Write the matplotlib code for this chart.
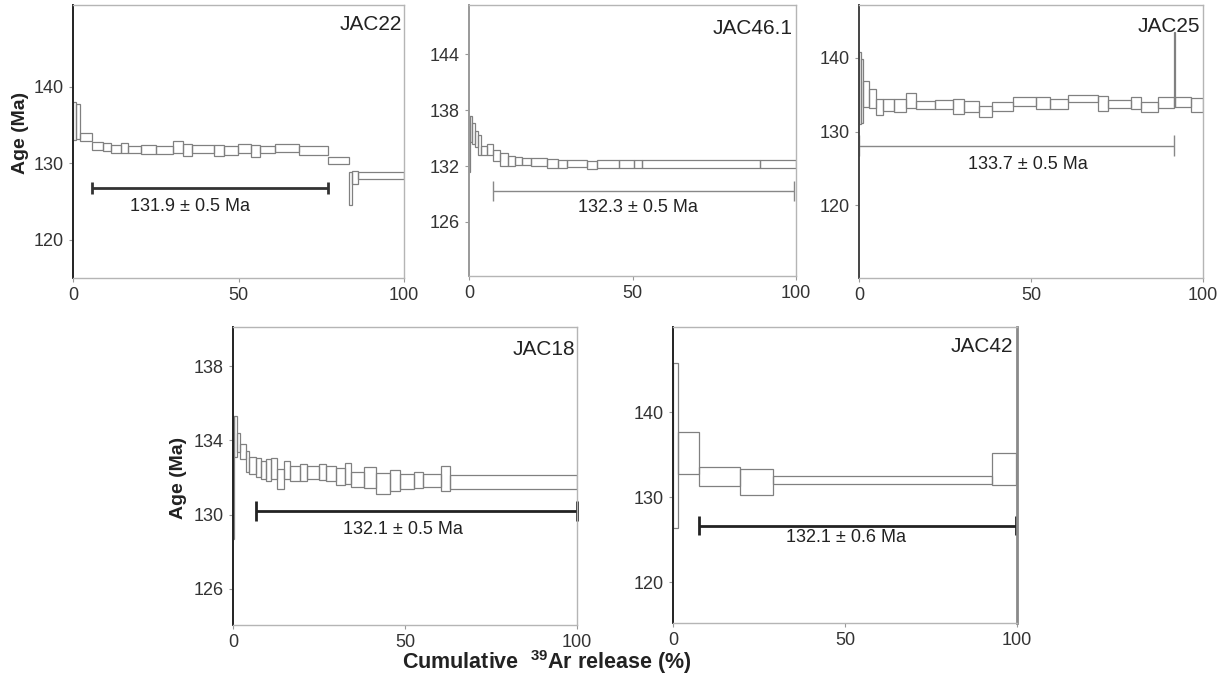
import numpy as np
import matplotlib
matplotlib.use("Agg")
import matplotlib.pyplot as plt

plt.rcParams['font.family'] = ['Liberation Sans', 'DejaVu Sans']
plt.rcParams['mathtext.fontset'] = 'custom'
plt.rcParams['mathtext.bf'] = 'Liberation Sans:bold'
plt.rcParams['mathtext.rm'] = 'Liberation Sans'

# cumulative 39Ar release (%) step edges, and age (Ma) lower / upper bound of each step
jac22_x = [0, 0.8, 2.0, 5.7, 9.1, 11.6, 14.4, 16.6, 20.4, 25.2, 30.2, 33.2, 35.9, 42.7,
           45.5, 49.9, 53.7, 56.6, 61.0, 68.4, 77.0, 83.3, 84.3, 86.1, 100]
jac22_lo = [133.0, 133.2, 132.9, 131.7, 131.6, 131.3, 131.3, 131.3, 131.2, 131.2, 131.3, 130.9,
            131.4, 131.0, 131.1, 131.3, 130.8, 131.3, 131.5, 131.1, 129.9, 124.6, 127.3, 128.0]
jac22_hi = [138.0, 137.8, 133.9, 132.8, 132.7, 132.4, 132.7, 132.2, 132.4, 132.3, 132.9, 132.5,
            132.4, 132.4, 132.2, 132.5, 132.4, 132.3, 132.5, 132.2, 130.8, 128.8, 129.0, 128.9]

jac461_x = [0, 0.3, 1.0, 1.7, 2.8, 3.7, 5.6, 7.4, 9.4, 12.0, 14.2, 16.3, 19.1, 23.7, 27.1,
            30.0, 36.0, 39.0, 45.9, 50.3, 52.8, 89.1, 100]
jac461_lo = [131.4, 134.6, 134.4, 134.0, 133.2, 133.2, 133.2, 132.6, 132.0, 132.0, 132.1, 132.1,
             132.0, 131.8, 131.75, 131.9, 131.65, 131.8, 131.8, 131.75, 131.85, 131.85]
jac461_hi = [137.4, 137.4, 136.6, 135.8, 135.3, 134.2, 134.4, 133.7, 133.4, 133.1, 133.0, 132.9,
             132.9, 132.8, 132.7, 132.7, 132.6, 132.7, 132.7, 132.7, 132.7, 132.7]

jac25_x = [0, 0.6, 1.3, 2.9, 5.0, 7.0, 10.2, 13.8, 16.7, 22.1, 27.2, 30.6, 34.8, 38.8, 44.9,
           51.5, 55.5, 60.7, 69.4, 72.3, 79.1, 82.0, 86.9, 91.5, 92.0, 96.6, 100]
jac25_lo = [131.0, 131.2, 133.3, 133.2, 132.2, 132.8, 132.7, 133.2, 133.0, 133.0, 132.4, 132.6,
            132.0, 132.8, 133.5, 133.0, 133.0, 134.0, 132.8, 133.2, 133.0, 132.7, 133.2, 133.3,
            133.3, 132.6]
jac25_hi = [140.8, 139.8, 136.9, 135.8, 134.4, 134.4, 134.4, 135.2, 134.2, 134.3, 134.4, 134.1,
            133.5, 134.0, 134.7, 134.7, 134.4, 135.0, 134.8, 134.3, 134.7, 134.0, 134.7, 143.5,
            134.7, 134.6]

jac18_x = [0, 0.15, 1.2, 2.1, 3.8, 4.5, 6.7, 8.0, 9.6, 11.0, 12.9, 14.7, 16.6, 19.5, 21.5,
           24.9, 27.1, 30.0, 32.4, 34.2, 38.1, 41.6, 45.5, 48.4, 52.6, 55.1, 60.3, 63.1, 100]
jac18_lo = [128.7, 133.1, 133.35, 133.0, 132.3, 132.2, 132.0, 131.9, 131.8, 131.9, 131.4, 131.9,
            131.8, 131.8, 131.9, 131.85, 131.8, 131.6, 131.65, 131.5, 131.45, 131.1, 131.25,
            131.4, 131.45, 131.5, 131.25, 131.4]
jac18_hi = [135.3, 135.3, 134.4, 133.8, 133.4, 133.1, 133.05, 132.9, 133.0, 133.05, 132.45, 132.9,
            132.6, 132.7, 132.6, 132.7, 132.6, 132.5, 132.8, 132.3, 132.55, 132.25, 132.4,
            132.2, 132.3, 132.2, 132.6, 132.15]

jac42_x = [0, 1.4, 7.5, 19.6, 29.1, 92.7, 99.8]
jac42_lo = [126.4, 132.75, 131.26, 130.3, 131.57, 131.4]
jac42_hi = [145.8, 137.7, 133.5, 133.35, 132.44, 135.2]

samples = ['JAC22', 'JAC46.1', 'JAC25', 'JAC18', 'JAC42']
plateau_text = ['131.9 ± 0.5 Ma', '132.3 ± 0.5 Ma', '133.7 ± 0.5 Ma', '132.1 ± 0.5 Ma', '132.1 ± 0.6 Ma']
plateau_start = [5.7, 7.2, 0.0, 6.8, 7.5]
plateau_end = [77.0, 99.3, 91.5, 100.0, 99.8]

steps = [(jac22_x, jac22_lo, jac22_hi), (jac461_x, jac461_lo, jac461_hi),
         (jac25_x, jac25_lo, jac25_hi), (jac18_x, jac18_lo, jac18_hi),
         (jac42_x, jac42_lo, jac42_hi)]

# layout / style per panel
positions = [[0.0600, 0.5930, 0.2720, 0.3997], [0.3854, 0.5959, 0.2687, 0.3968],
             [0.7058, 0.5930, 0.2827, 0.3997], [0.1915, 0.0849, 0.2827, 0.4363],
             [0.5530, 0.0878, 0.2827, 0.4334]]
ylims = [(115.0, 150.7), (120.2, 149.3), (110.1, 147.2), (124.05, 140.1), (115.2, 150.0)]
yticks = [[120, 130, 140], [126, 132, 138, 144], [120, 130, 140], [126, 130, 134, 138], [120, 130, 140]]
bar_y = [126.75, 129.35, 128.1, 130.2, 126.65]
cap_h = [0.8, 1.06, 1.4, 0.55, 1.1]
bar_style = [('#333333', 2.0), ('#888888', 1.0), ('#888888', 1.0), ('#222222', 2.0), ('#222222', 2.0)]
text_pos = [(35.3, 124.3), (51.8, 127.6), (49.0, 125.5), (49.3, 129.2), (50.4, 125.2)]
name_pos = [(0.994, 0.963), (0.991, 0.948), (0.991, 0.956), (0.994, 0.956), (0.988, 0.966)]
left_col = ['#222222', '#999999', '#444444', '#222222', '#222222']

fig = plt.figure(figsize=(12.17, 6.83), dpi=100)

for i in range(5):
    ax = fig.add_axes(positions[i])
    x, lo, hi = steps[i]
    x = np.array(x)
    lo = np.array(lo)
    hi = np.array(hi)
    ax.bar(x[:-1], hi - lo, bottom=lo, width=np.diff(x), align='edge',
           fill=False, edgecolor='#808080', linewidth=0.9)

    col, lw = bar_style[i]
    ax.hlines(bar_y[i], plateau_start[i], plateau_end[i], color=col, lw=lw, clip_on=False)
    ax.vlines([plateau_start[i], plateau_end[i]], bar_y[i] - cap_h[i], bar_y[i] + cap_h[i],
              color=col, lw=lw, clip_on=False)
    ax.text(text_pos[i][0], text_pos[i][1], plateau_text[i], ha='center', va='center',
            fontsize=13, color='#222222')
    ax.text(name_pos[i][0], name_pos[i][1], samples[i], transform=ax.transAxes,
            ha='right', va='top', fontsize=15, color='#222222')

    ax.set_xlim(0, 100)
    ax.set_ylim(*ylims[i])
    ax.set_xticks([0, 50, 100])
    ax.set_yticks(yticks[i])
    ax.tick_params(direction='out', length=3, width=0.8, color='#999999',
                   labelsize=13, labelcolor='#333333')
    for s in ['top', 'right', 'bottom']:
        ax.spines[s].set_color('#b5b5b5')
        ax.spines[s].set_linewidth(1.0)
    ax.spines['left'].set_color(left_col[i])
    ax.spines['left'].set_linewidth(1.4)
    if i == 4:
        ax.spines['right'].set_color('#8a8a8a')
        ax.spines['right'].set_linewidth(2.0)

fig.text(0.0165, 0.806, 'Age (Ma)', rotation=90, ha='center', va='center',
         fontsize=14, fontweight='bold', color='#222222')
fig.text(0.147, 0.300, 'Age (Ma)', rotation=90, ha='center', va='center',
         fontsize=14, fontweight='bold', color='#222222')
fig.text(0.449, 0.030, r'Cumulative  $^{\mathbf{39}}$Ar release (%)', ha='center', va='center',
         fontsize=15.5, fontweight='bold', color='#222222')

fig.savefig('out.png', dpi=100)
